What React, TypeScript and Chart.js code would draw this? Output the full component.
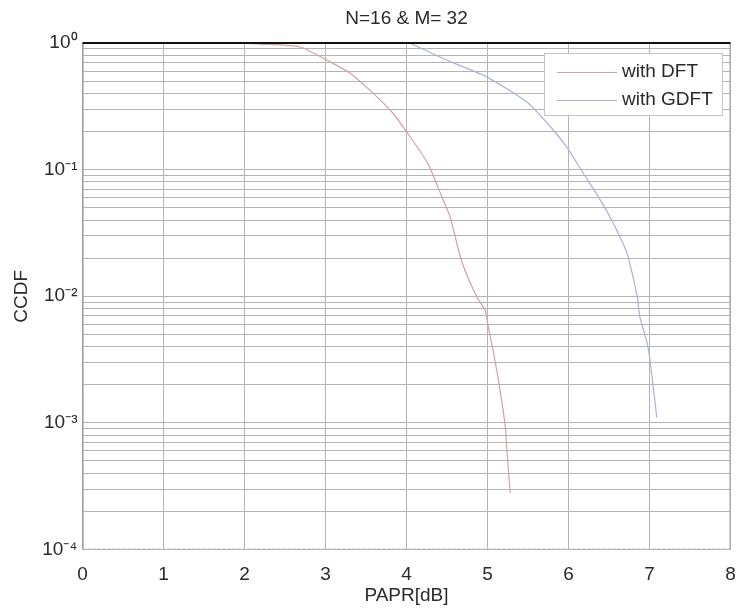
import React, { useEffect, useRef } from 'react';
import { Chart, registerables } from 'chart.js';

Chart.register(...registerables);

// ---- data ----
const titleText = 'N=16 & M= 32';
const xAxisTitle = 'PAPR[dB]';
const yAxisTitle = 'CCDF';
const seriesNames = ['with DFT', 'with GDFT'];

const dftPapr = [1.85, 2.19, 2.69, 3.02, 3.3, 3.59, 3.83, 4.01, 4.26, 4.45, 4.54, 4.68, 4.87, 4.97, 5.01, 5.07, 5.15, 5.22, 5.24, 5.28];
const dftCcdf = [1.0, 0.98, 0.93, 0.73, 0.58, 0.4, 0.28, 0.195, 0.113, 0.058, 0.042, 0.019, 0.0098, 0.0078, 0.0057, 0.0037, 0.0019, 0.00093, 0.0006, 0.00028];

const gdftPapr = [4.04, 4.5, 4.99, 5.49, 5.77, 5.98, 6.18, 6.39, 6.55, 6.72, 6.85, 6.88, 6.97, 7.01, 7.09];
const gdftCcdf = [1.0, 0.73, 0.54, 0.34, 0.22, 0.15, 0.094, 0.058, 0.038, 0.022, 0.0098, 0.0069, 0.0043, 0.003, 0.0011];

const xMin = 0;
const xMax = 8;
const yDecades = [-4, -3, -2, -1, 0];
const yMultipliers = [1, 2, 3, 4, 5, 6, 7, 8, 9];
const yDecadeLabels = ['10⁻⁴', '10⁻³', '10⁻²', '10⁻¹', '10⁰'];

const seriesColors = ['rgb(214,160,165)', 'rgb(168,180,212)'];

const FONT = "'Liberation Sans', Arial, Helvetica, sans-serif";
const TEXT = '#2a2a2a';

const yTickValues: number[] = [];
yDecades.forEach((d) => {
  yMultipliers.forEach((m) => {
    const v = m * Math.pow(10, d);
    if (v <= 1.0000001) yTickValues.push(v);
  });
});

const boxPlugin = {
  id: 'axesBox',
  afterDatasetsDraw(chart: any) {
    const { ctx, chartArea: a } = chart;
    ctx.save();
    ctx.strokeStyle = '#8a8a8a';
    ctx.lineWidth = 1;
    ctx.beginPath();
    ctx.moveTo(a.left + 0.5, a.top);
    ctx.lineTo(a.left + 0.5, a.bottom);
    ctx.stroke();
    ctx.strokeStyle = '#a0a0a0';
    ctx.beginPath();
    ctx.moveTo(a.right - 0.5, a.top);
    ctx.lineTo(a.right - 0.5, a.bottom);
    ctx.stroke();
    ctx.strokeStyle = '#b8b8b8';
    ctx.setLineDash([3, 2]);
    ctx.beginPath();
    ctx.moveTo(a.left, a.bottom - 0.5);
    ctx.lineTo(a.right, a.bottom - 0.5);
    ctx.stroke();
    ctx.setLineDash([]);
    ctx.strokeStyle = '#111';
    ctx.lineWidth = 2;
    ctx.beginPath();
    ctx.moveTo(a.left, a.top);
    ctx.lineTo(a.right, a.top);
    ctx.stroke();
    ctx.restore();
  },
};

const legendPlugin = {
  id: 'insideLegend',
  afterDraw(chart: any) {
    const { ctx, chartArea: a } = chart;
    const w = 178;
    const h = 62;
    const x = a.right - 8.5 - w;
    const y = a.top + 10;
    ctx.save();
    ctx.fillStyle = '#fff';
    ctx.fillRect(x, y, w, h);
    ctx.strokeStyle = '#c4c4c4';
    ctx.lineWidth = 1;
    ctx.strokeRect(x + 0.5, y + 0.5, w, h);
    chart.data.datasets.forEach((ds: any, i: number) => {
      const cy = y + 19 + i * 28;
      ctx.strokeStyle = ds.borderColor;
      ctx.lineWidth = 1;
      ctx.beginPath();
      ctx.moveTo(x + 13, cy + 0.5);
      ctx.lineTo(x + 73, cy + 0.5);
      ctx.stroke();
      ctx.fillStyle = TEXT;
      ctx.font = `19px ${FONT}`;
      ctx.textBaseline = 'middle';
      ctx.textAlign = 'left';
      ctx.fillText(ds.label, x + 78, cy);
    });
    ctx.restore();
  },
};

export default function App() {
  const canvasRef = useRef<HTMLCanvasElement | null>(null);

  useEffect(() => {
    const canvas = canvasRef.current;
    if (!canvas) return;
    const chart = new Chart(canvas, {
      type: 'line',
      data: {
        datasets: [
          {
            label: seriesNames[0],
            data: dftPapr.map((x, i) => ({ x, y: dftCcdf[i] })),
            borderColor: seriesColors[0],
            borderWidth: 1.2,
            pointRadius: 0,
            fill: false,
            tension: 0.2,
          },
          {
            label: seriesNames[1],
            data: gdftPapr.map((x, i) => ({ x, y: gdftCcdf[i] })),
            borderColor: seriesColors[1],
            borderWidth: 1.2,
            pointRadius: 0,
            fill: false,
            tension: 0.2,
          },
        ],
      },
      options: {
        responsive: false,
        animation: false,
        events: [],
        layout: { padding: { left: 0, right: 8.5, top: 0, bottom: 0 } },
        plugins: {
          legend: { display: false },
          tooltip: { enabled: false },
          title: {
            display: true,
            text: titleText,
            fullSize: false,
            color: TEXT,
            font: { family: FONT, size: 19, weight: 'normal' },
            padding: { top: 7, bottom: 13.2 },
          },
        },
        scales: {
          x: {
            type: 'linear',
            min: xMin,
            max: xMax,
            afterFit: (s: any) => {
              s.height = 59.5;
              s.paddingLeft = 0;
              s.paddingRight = 0;
            },
            ticks: {
              stepSize: 1,
              color: TEXT,
              font: { family: FONT, size: 19 },
              padding: 14,
              maxRotation: 0,
            },
            grid: { color: '#b4b4b4', lineWidth: 1, drawTicks: false },
            border: { display: false },
            title: {
              display: true,
              text: xAxisTitle,
              color: TEXT,
              font: { family: FONT, size: 19 },
              padding: { top: 0, bottom: 2 },
            },
          },
          y: {
            type: 'logarithmic',
            min: 1e-4,
            max: 1,
            afterFit: (s: any) => {
              s.width = 82.5;
              s.paddingTop = 0;
              s.paddingBottom = 0;
            },
            afterBuildTicks: (s: any) => {
              s.ticks = yTickValues.map((v) => ({ value: v }));
            },
            ticks: {
              autoSkip: false,
              color: TEXT,
              font: { family: FONT, size: 19 },
              padding: 5,
              callback: (value: any) => {
                const e = Math.log10(Number(value));
                const r = Math.round(e);
                if (Math.abs(e - r) < 1e-6) {
                  const idx = yDecades.indexOf(r);
                  return idx >= 0 ? yDecadeLabels[idx] : '';
                }
                return '';
              },
            },
            grid: { color: '#b4b4b4', lineWidth: 1, drawTicks: false },
            border: { display: false },
            title: {
              display: true,
              text: yAxisTitle,
              color: TEXT,
              font: { family: FONT, size: 19 },
              padding: { top: 10, bottom: 0 },
            },
          },
        },
      } as any,
      plugins: [boxPlugin, legendPlugin],
    });
    return () => chart.destroy();
  }, []);

  return (
    <div style={{ position: 'absolute', left: 0, top: 0, width: 739, height: 609, background: '#fff' }}>
      <canvas ref={canvasRef} width={739} height={609} style={{ display: 'block' }} />
    </div>
  );
}
